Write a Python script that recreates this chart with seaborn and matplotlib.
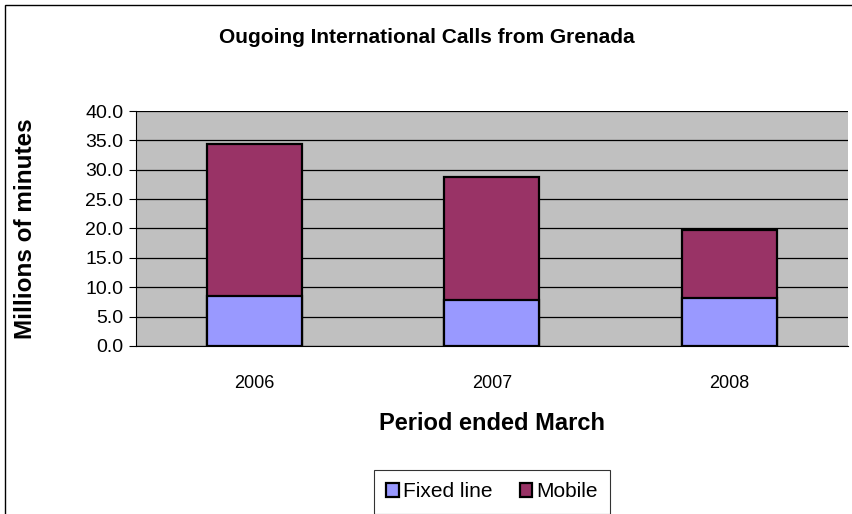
import numpy as np
import pandas as pd
import matplotlib
matplotlib.use("Agg")
import matplotlib.pyplot as plt
import seaborn as sns
from matplotlib.patches import Rectangle, Patch

years = ["2006", "2007", "2008"]
fixed_line = [8.5, 7.8, 8.2]
mobile = [25.9, 21.0, 11.5]

df = pd.DataFrame({"year": years, "fixed": fixed_line, "mobile": mobile})
df["total"] = df["fixed"] + df["mobile"]

sns.set_style("white")
plt.rcParams["font.family"] = ["Liberation Sans", "DejaVu Sans"]
plt.rcParams["text.color"] = "black"
plt.rcParams["axes.labelcolor"] = "black"
plt.rcParams["xtick.color"] = "black"
plt.rcParams["ytick.color"] = "black"

fig = plt.figure(figsize=(8.53, 5.14), dpi=100)
ax = fig.add_axes([0.159, 0.327, 0.835, 0.457])
ax.set_facecolor("#C0C0C0")

sns.barplot(data=df, x="year", y="total", color="#993366", width=0.4,
            edgecolor="black", linewidth=1.6, ax=ax, saturation=1)
sns.barplot(data=df, x="year", y="fixed", color="#9999FF", width=0.4,
            edgecolor="black", linewidth=1.6, ax=ax, saturation=1)

ax.set_xlim(-0.5, 2.5)
ax.set_ylim(0, 40)
ticks = np.arange(0, 40.1, 5)
ax.set_yticks(ticks)
ax.set_yticklabels([f"{v:.1f}" for v in ticks], fontsize=14)
ax.yaxis.grid(True, color="black", linewidth=0.9)
ax.set_axisbelow(True)

ax.set_xticks([0, 1, 2])
ax.set_xticklabels(years, fontsize=13)
ax.tick_params(axis="x", length=0, pad=21)
ax.set_xticks([-0.5, 0.5, 1.5, 2.5], minor=True)
ax.tick_params(axis="x", which="minor", length=6, direction="out", color="black")
ax.tick_params(axis="y", length=5, direction="out", color="black", left=True, pad=4)

for side in ["top", "right"]:
    ax.spines[side].set_visible(False)
ax.spines["left"].set_color("black")
ax.spines["bottom"].set_color("black")

ax.set_xlabel("Period ended March", fontsize=17, fontweight="bold", labelpad=14)
ax.set_ylabel("Millions of minutes", fontsize=17.5, fontweight="bold")
ax.yaxis.set_label_coords(-0.138, 0.5)

fig.text(0.50, 0.928, "Ougoing International Calls from Grenada",
         ha="center", va="center", fontsize=15, fontweight="bold")

handles = [Patch(facecolor="#9999FF", edgecolor="black", linewidth=1.6, label="Fixed line"),
           Patch(facecolor="#993366", edgecolor="black", linewidth=1.6, label="Mobile")]
leg = fig.legend(handles=handles, loc="center", bbox_to_anchor=(0.577, 0.043), ncol=2,
                 frameon=True, fancybox=False, fontsize=15, handlelength=0.6,
                 handleheight=0.6, handletextpad=0.2, columnspacing=1.3,
                 borderpad=0.6, borderaxespad=0)
leg.get_frame().set_edgecolor("black")
leg.get_frame().set_linewidth(0.8)

fig.patches.append(Rectangle((0.006, -0.01), 1.1, 1.0, transform=fig.transFigure,
                             fill=False, edgecolor="black", linewidth=1.0))

fig.savefig("out.png", dpi=100)
